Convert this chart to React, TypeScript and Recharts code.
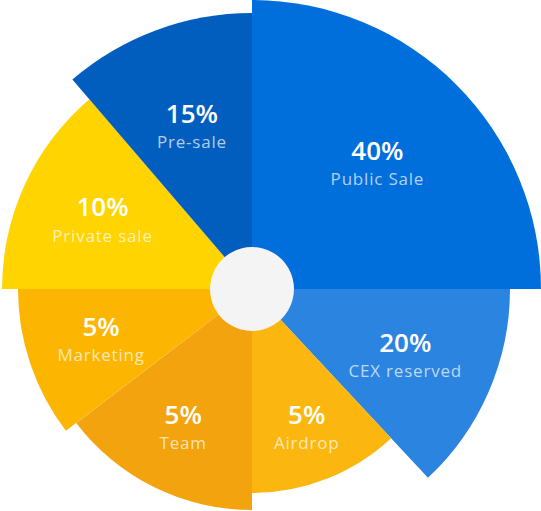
import { PieChart, Pie, Cell } from "recharts";

const names = ["Public Sale", "CEX reserved", "Airdrop", "Team", "Marketing", "Private sale", "Pre-sale"];
const shares = [40, 20, 5, 5, 5, 10, 15];
// angular extent of each wedge (degrees)
const spans = [90, 47, 43, 52.7, 37.3, 49.4, 40.6];
// outer radius of each wedge (px)
const radii = [289, 258, 204, 221, 234, 250, 276];
const COLORS = ["#006edb", "#2a84e0", "#fbb710", "#f3a30d", "#fcb500", "#ffd400", "#025ebe"];

const slices = names.map((name, i) => ({ name, share: shares[i], span: spans[i] }));
const hub = [{ name: "hub", v: 1 }];

const RADIAN = Math.PI / 180;
const CX = 252;
const CY = 289;
const FONT = "'Open Sans', 'DejaVu Sans', sans-serif";

function makeLabel(owner: number) {
  return (p: any) => {
    if (p.index !== owner) return null;
    const r = p.outerRadius * 0.33 + 82;
    const x = p.cx + r * Math.cos(-p.midAngle * RADIAN);
    const y = p.cy + r * Math.sin(-p.midAngle * RADIAN);
    return (
      <g>
        <text x={x} y={y - 14} textAnchor="middle" dominantBaseline="central" fill="#fff" fontSize={26} fontWeight={600} fontFamily={FONT}>
          {`${p.payload.share}%`}
        </text>
        <text x={x} y={y + 15} textAnchor="middle" dominantBaseline="central" fill="#fff" fillOpacity={0.7} fontSize={17} fontFamily={FONT} letterSpacing={0.8}>
          {p.payload.name}
        </text>
      </g>
    );
  };
}

export default function App() {
  return (
    <div style={{ position: "absolute", left: 0, top: 0, background: "#fff" }}>
      <PieChart width={541} height={511} margin={{ top: 0, right: 0, bottom: 0, left: 0 }}>
        {/* one Pie per wedge so every wedge can have its own radius; angles still come from the full data */}
        {slices.map((_, i) => (
          <Pie
            key={i}
            data={slices}
            dataKey="span"
            cx={CX}
            cy={CY}
            innerRadius={0}
            outerRadius={radii[i]}
            startAngle={90}
            endAngle={-270}
            stroke="none"
            labelLine={false}
            label={makeLabel(i)}
            isAnimationActive={false}
          >
            {slices.map((s, j) => (
              <Cell key={s.name} fill={j === i ? COLORS[i] : "none"} />
            ))}
          </Pie>
        ))}
        <Pie data={hub} dataKey="v" cx={CX} cy={CY} outerRadius={42} fill="#f4f4f4" stroke="none" isAnimationActive={false} />
      </PieChart>
    </div>
  );
}
